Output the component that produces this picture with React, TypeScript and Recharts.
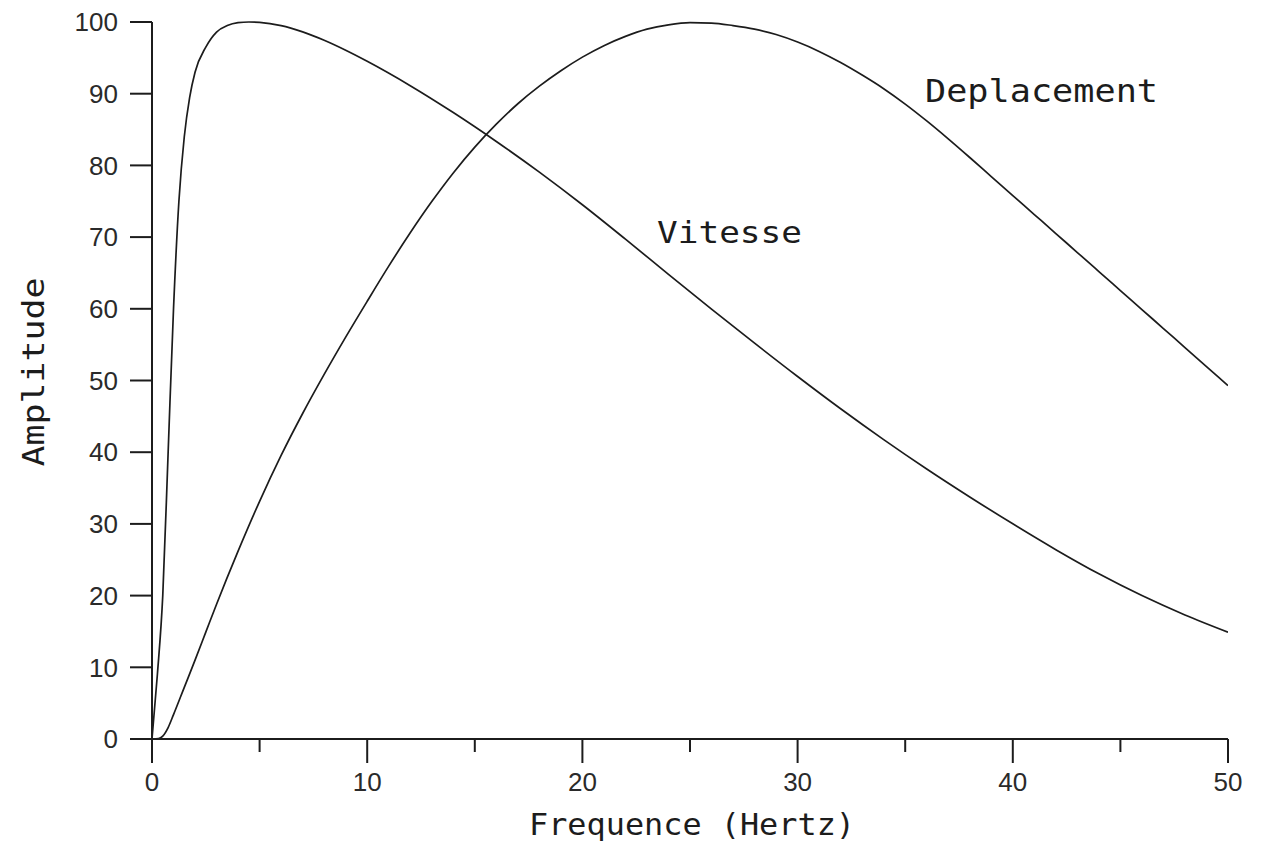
import { LineChart, Line, XAxis, YAxis } from "recharts"

// frequency (Hz) / amplitude pairs
const vitesseFreq = [0, 0.25, 0.5, 0.75, 1, 1.25, 1.5, 1.75, 2, 2.5, 3, 3.5, 4, 4.5, 5, 6, 7, 8, 9, 10, 12, 14, 16, 18, 20, 22, 24, 26, 28, 30, 32, 34, 36, 38, 40, 42, 44, 46, 48, 50]
const vitesseAmp = [0, 9, 20, 40, 60, 75, 84, 89.5, 93, 96.5, 98.6, 99.5, 99.9, 100, 99.95, 99.5, 98.62, 97.45, 96.06, 94.52, 91.12, 87.37, 83.34, 79.06, 74.51, 69.71, 64.81, 59.96, 55.21, 50.56, 46.06, 41.76, 37.66, 33.76, 30.01, 26.41, 23.04, 20, 17.3, 14.9]

const deplFreq = [0, 0.3, 0.5, 0.75, 1, 1.5, 2, 2.5, 3, 4, 5, 6, 7, 8, 9, 10, 11, 12, 13, 14, 15, 16, 17, 18, 19, 20, 21, 22, 23, 24, 25, 26, 27, 28, 29, 30, 31, 32, 33, 34, 35, 36, 37, 38, 39, 40, 41, 42, 43, 44, 45, 46, 47, 48, 49, 50]
const deplAmp = [0, 0.05, 0.4, 1.6, 3.4, 7.2, 11, 14.9, 18.8, 26.2, 33.15, 39.55, 45.4, 50.85, 56.05, 61.05, 65.95, 70.6, 74.95, 78.95, 82.55, 85.75, 88.6, 91.05, 93.2, 95.1, 96.7, 98, 99, 99.6, 99.9, 99.85, 99.5, 99, 98.25, 97.2, 95.9, 94.35, 92.6, 90.7, 88.55, 86.2, 83.7, 81.1, 78.45, 75.8, 73.15, 70.5, 67.85, 65.2, 62.55, 59.9, 57.25, 54.6, 51.95, 49.3]

const xTicks = [0, 5, 10, 15, 20, 25, 30, 35, 40, 45, 50]
const yTicks = [0, 10, 20, 30, 40, 50, 60, 70, 80, 90, 100]

const vitesseData = vitesseFreq.map((f, i) => ({ f, amp: vitesseAmp[i] }))
const deplData = deplFreq.map((f, i) => ({ f, amp: deplAmp[i] }))

const INK = "#1c1c1c"
const TICK_FONT = "'Liberation Sans', Arial, sans-serif"
const PLOT_FONT = "'DejaVu Sans Mono', monospace"

// major ticks every 10 with a label, minor ones every 5
function XTick({ x, y, payload }: any) {
    const major = payload.value % 10 === 0
    return (
        <g>
            <line x1={x} y1={y} x2={x} y2={y + (major ? 24 : 13)} stroke={INK} strokeWidth={2} />
            {major && (
                <text x={x} y={y + 52} textAnchor="middle" fontFamily={TICK_FONT} fontSize={26} fill="#2a2a2a">
                    {payload.value}
                </text>
            )}
        </g>
    )
}

export default function App() {
    return (
        <div style={{ width: 1281, height: 846, background: "#fff" }}>
            <style>{"body{margin:0}"}</style>
            <LineChart width={1281} height={846} margin={{ top: 22, right: 53, left: 0, bottom: 47 }}>
                <XAxis
                    dataKey="f"
                    type="number"
                    domain={[0, 50]}
                    ticks={xTicks}
                    allowDataOverflow
                    height={60}
                    tickSize={0}
                    tickMargin={0}
                    tickLine={false}
                    axisLine={{ stroke: INK, strokeWidth: 2 }}
                    tick={<XTick />}
                />
                <YAxis
                    type="number"
                    domain={[0, 100]}
                    ticks={yTicks}
                    width={152}
                    tickSize={22}
                    tickMargin={12}
                    axisLine={{ stroke: INK, strokeWidth: 2 }}
                    tickLine={{ stroke: INK, strokeWidth: 2 }}
                    tick={{ fill: "#2a2a2a", fontFamily: TICK_FONT, fontSize: 26 }}
                />
                <Line
                    data={vitesseData}
                    dataKey="amp"
                    type="monotone"
                    stroke={INK}
                    strokeWidth={1.7}
                    dot={false}
                    isAnimationActive={false}
                />
                <Line
                    data={deplData}
                    dataKey="amp"
                    type="monotone"
                    stroke={INK}
                    strokeWidth={1.7}
                    dot={false}
                    isAnimationActive={false}
                />
                <text x={925} y={102} fontFamily={PLOT_FONT} fontSize={32} fill={INK} textLength={233} lengthAdjust="spacingAndGlyphs">
                    Deplacement
                </text>
                <text x={657} y={243} fontFamily={PLOT_FONT} fontSize={31} fill={INK} textLength={145} lengthAdjust="spacingAndGlyphs">
                    Vitesse
                </text>
                <text x={529} y={835} fontFamily={PLOT_FONT} fontSize={30} fill={INK} textLength={326} lengthAdjust="spacingAndGlyphs">
                    Frequence (Hertz)
                </text>
                <text
                    x={44}
                    y={372}
                    transform="rotate(-90, 44, 372)"
                    textAnchor="middle"
                    fontFamily={PLOT_FONT}
                    fontSize={30}
                    fill={INK}
                    textLength={189}
                    lengthAdjust="spacingAndGlyphs"
                >
                    Amplitude
                </text>
            </LineChart>
        </div>
    )
}
